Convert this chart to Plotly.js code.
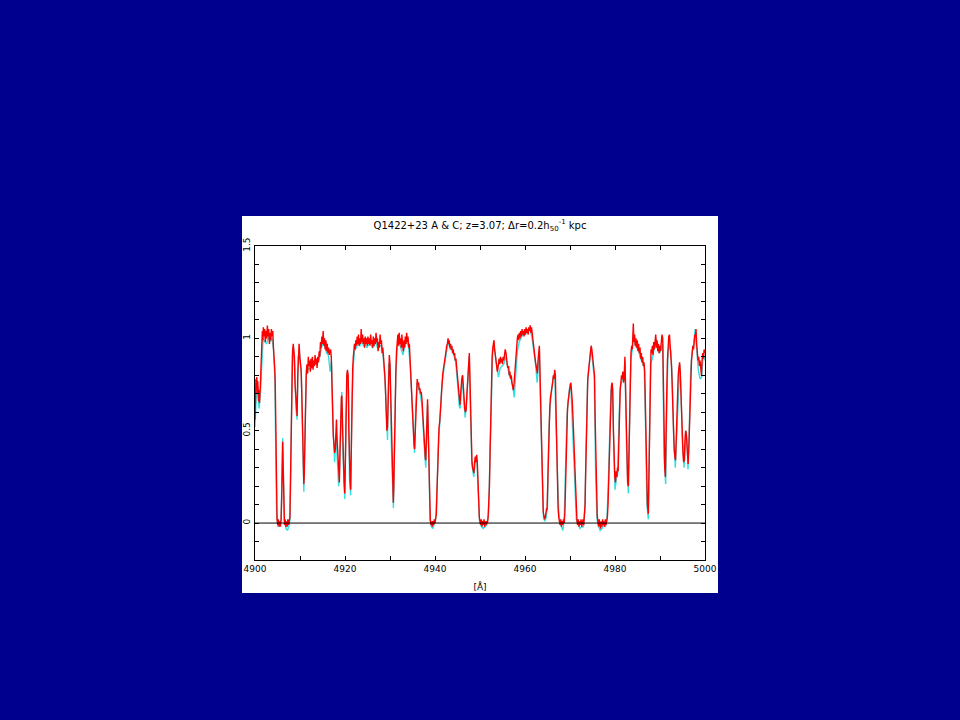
<!DOCTYPE html>
<html>
<head>
<meta charset="utf-8">
<script src="https://cdn.plot.ly/plotly-3.0.1.min.js"></script>
<style>html,body{margin:0;padding:0;background:#00008f;}#chart{width:960px;height:720px;}</style>
</head>
<body>
<div id="chart"></div>
<script>
// Red spectrum (wavelength in Angstrom, normalised flux)
const waveRed = [
4900.00,4900.10,4900.20,4900.30,4900.40,4900.50,4900.60,4900.70,4900.80,4900.90,4901.00,4901.10,4901.20,4901.35,4901.50,4901.63,4901.75,4901.85,4902.00,4902.15,4902.30,4902.45,4902.60,4902.75,4902.90,4903.05,4903.20,4903.35,4903.50,4903.65,4903.80,4903.95,4904.10,4904.25,4904.40,4904.50,4904.60,4904.70,4904.80,4904.90,
4905.05,4905.20,4905.35,4905.50,4905.65,4905.80,4905.95,4906.05,4906.15,4906.25,4906.35,4906.45,4906.55,4906.70,4906.85,4907.00,4907.15,4907.30,4907.45,4907.60,4907.75,4907.90,4908.05,4908.20,4908.35,4908.50,4908.62,4908.75,4908.90,4909.05,4909.20,4909.35,4909.50,4909.65,4909.80,4909.95,
4910.10,4910.25,4910.40,4910.55,4910.70,4910.85,4910.95,4911.10,4911.25,4911.40,4911.55,4911.70,4911.85,4912.00,4912.15,4912.30,4912.45,4912.60,4912.75,4912.90,4913.05,4913.20,4913.35,4913.50,4913.65,4913.80,4913.95,4914.10,4914.25,4914.40,4914.55,4914.70,4914.85,
4915.00,4915.15,4915.30,4915.45,4915.60,4915.75,4915.90,4916.05,4916.20,4916.35,4916.50,4916.65,4916.80,4916.95,4917.10,4917.25,4917.40,4917.55,4917.70,4917.85,4918.00,4918.10,4918.25,4918.40,4918.55,4918.75,4918.90,4919.05,4919.20,4919.30,4919.45,4919.60,4919.80,4919.95,
4920.10,4920.25,4920.40,4920.55,4920.70,4920.85,4921.00,4921.15,4921.26,4921.40,4921.55,4921.70,4921.85,4922.00,4922.10,4922.25,4922.40,4922.55,4922.70,4922.85,4923.00,4923.15,4923.30,4923.45,4923.60,4923.75,4923.90,4924.05,4924.20,4924.35,4924.50,4924.65,4924.80,4924.95,
4925.10,4925.25,4925.40,4925.55,4925.70,4925.85,4926.00,4926.15,4926.30,4926.45,4926.60,4926.75,4926.90,4927.05,4927.20,4927.35,4927.50,4927.65,4927.80,4927.95,4928.10,4928.25,4928.40,4928.55,4928.70,4928.85,4929.00,4929.15,4929.30,4929.45,4929.60,4929.75,4929.85,4930.00,
4930.15,4930.30,4930.45,4930.60,4930.74,4930.85,4931.00,4931.15,4931.30,4931.45,4931.60,4931.75,4931.90,4932.05,4932.20,4932.35,4932.50,4932.65,4932.80,4932.95,4933.10,4933.25,4933.40,4933.55,4933.70,4933.85,4934.00,4934.15,4934.30,4934.45,4934.60,4934.75,4934.90,
4935.05,4935.20,4935.35,4935.48,4935.60,4935.75,4935.90,4936.05,4936.20,4936.35,4936.50,4936.65,4936.80,4936.95,4937.10,4937.25,4937.40,4937.55,4937.70,4937.85,4937.95,4938.10,4938.25,4938.35,4938.50,4938.65,4938.80,4938.95,4939.10,4939.25,4939.40,4939.55,4939.70,4939.85,
4940.00,4940.15,4940.30,4940.45,4940.60,4940.75,4940.90,4941.05,4941.20,4941.35,4941.50,4941.70,4941.85,4942.00,4942.15,4942.30,4942.45,4942.60,4942.75,4942.90,4943.05,4943.15,4943.30,4943.45,4943.60,4943.75,4943.90,4944.05,4944.20,4944.35,4944.50,4944.65,4944.80,4944.95,
4945.10,4945.25,4945.40,4945.55,4945.70,4945.85,4946.00,4946.15,4946.30,4946.45,4946.60,4946.75,4946.90,4947.05,4947.20,4947.35,4947.50,4947.63,4947.75,4947.90,4948.05,4948.20,4948.35,4948.50,4948.65,4948.80,4948.95,4949.10,4949.25,4949.40,4949.55,4949.70,4949.85,
4950.00,4950.15,4950.30,4950.45,4950.60,4950.75,4950.90,4951.05,4951.20,4951.35,4951.50,4951.65,4951.80,4951.95,4952.10,4952.25,4952.40,4952.55,4952.70,4952.85,4953.00,4953.11,4953.25,4953.40,4953.55,4953.70,4953.85,4954.00,4954.10,4954.25,4954.40,4954.55,4954.70,4954.85,
4955.00,4955.15,4955.30,4955.45,4955.60,4955.78,4955.90,4956.05,4956.20,4956.35,4956.50,4956.65,4956.80,4956.95,4957.10,4957.25,4957.40,4957.55,4957.70,4957.85,4958.00,4958.15,4958.30,4958.45,4958.60,4958.75,4958.90,4959.05,4959.20,4959.35,4959.50,4959.65,4959.80,4959.95,
4960.10,4960.25,4960.40,4960.55,4960.70,4960.85,4961.00,4961.15,4961.30,4961.45,4961.60,4961.75,4961.90,4962.05,4962.20,4962.35,4962.50,4962.65,4962.75,4962.90,4963.05,4963.19,4963.30,4963.45,4963.60,4963.75,4963.90,4964.05,4964.20,4964.35,4964.50,4964.65,4964.80,4964.90,
4965.05,4965.20,4965.35,4965.50,4965.65,4965.80,4966.00,4966.15,4966.30,4966.45,4966.60,4966.75,4966.90,4967.05,4967.20,4967.35,4967.50,4967.65,4967.80,4967.95,4968.10,4968.25,4968.40,4968.55,4968.70,4968.85,4969.00,4969.15,4969.30,4969.45,4969.60,4969.75,4969.90,
4970.05,4970.20,4970.35,4970.50,4970.65,4970.80,4970.95,4971.10,4971.25,4971.40,4971.55,4971.70,4971.85,4972.00,4972.15,4972.30,4972.45,4972.60,4972.75,4972.90,4973.05,4973.20,4973.35,4973.50,4973.65,4973.80,4973.95,4974.10,4974.25,4974.40,4974.55,4974.70,4974.85,
4975.00,4975.15,4975.30,4975.45,4975.60,4975.75,4975.90,4976.05,4976.20,4976.35,4976.50,4976.65,4976.80,4976.95,4977.10,4977.25,4977.40,4977.55,4977.70,4977.85,4978.00,4978.15,4978.30,4978.45,4978.60,4978.75,4978.90,4979.05,4979.20,4979.35,4979.50,4979.65,4979.80,4979.95,
4980.10,4980.25,4980.40,4980.55,4980.70,4980.85,4981.00,4981.15,4981.30,4981.45,4981.60,4981.75,4981.90,4982.05,4982.20,4982.35,4982.50,4982.65,4982.80,4982.96,4983.10,4983.25,4983.40,4983.55,4983.70,4983.85,4983.95,4984.07,4984.20,4984.35,4984.50,4984.65,4984.80,4984.95,
4985.10,4985.25,4985.40,4985.55,4985.70,4985.85,4986.00,4986.15,4986.30,4986.45,4986.60,4986.75,4986.90,4987.05,4987.20,4987.40,4987.55,4987.70,4987.85,4988.00,4988.15,4988.30,4988.45,4988.60,4988.75,4988.90,4989.05,4989.20,4989.35,4989.50,4989.65,4989.80,4989.95,
4990.10,4990.30,4990.45,4990.60,4990.75,4990.90,4991.05,4991.20,4991.35,4991.50,4991.65,4991.80,4991.95,4992.10,4992.25,4992.40,4992.55,4992.70,4992.85,4993.00,4993.15,4993.30,4993.45,4993.60,4993.75,4993.90,4994.05,4994.20,4994.35,4994.50,4994.65,4994.80,4994.95,
4995.10,4995.25,4995.40,4995.55,4995.70,4995.85,4996.00,4996.15,4996.25,4996.40,4996.55,4996.70,4996.85,4997.00,4997.15,4997.30,4997.45,4997.60,4997.75,4997.90,4998.00,4998.15,4998.30,4998.45,4998.60,4998.75,4998.90,4999.05,4999.20,4999.35,4999.50,4999.65,4999.80,5000.00
];
const fluxRed = [
0.56,0.70,0.78,0.74,0.79,0.70,0.77,0.73,0.66,0.72,0.65,0.68,0.75,0.86,0.93,1.04,0.99,1.06,1.01,1.05,0.98,1.04,1.00,1.07,1.01,1.05,0.97,1.03,0.99,1.05,1.01,1.04,0.95,0.90,0.83,0.75,0.55,0.30,0.10,0.02,
-0.01,0.02,-0.02,0.01,-0.02,0.02,0.15,0.30,0.44,0.32,0.15,0.04,-0.01,0.02,-0.02,0.01,-0.02,0.02,-0.01,0.01,0.03,0.25,0.55,0.80,0.93,0.97,0.92,0.90,0.75,0.66,0.62,0.58,0.80,0.94,0.97,0.90,
0.86,0.83,0.70,0.45,0.28,0.21,0.26,0.55,0.78,0.82,0.86,0.81,0.90,0.85,0.88,0.82,0.89,0.84,0.90,0.83,0.88,0.85,0.91,0.86,0.89,0.84,0.90,0.87,0.93,0.90,0.98,0.95,1.01,
0.97,1.04,0.96,1.00,0.94,0.99,0.93,0.97,0.92,0.95,0.91,0.93,0.94,0.90,0.80,0.62,0.47,0.42,0.38,0.40,0.52,0.56,0.45,0.35,0.25,0.22,0.40,0.60,0.68,0.69,0.45,0.40,0.22,0.16,
0.35,0.65,0.80,0.83,0.80,0.50,0.29,0.22,0.18,0.40,0.70,0.83,0.90,0.94,0.97,0.94,0.99,0.96,1.01,0.97,1.02,0.96,1.00,0.97,1.05,0.98,1.02,0.97,1.00,0.95,1.01,0.97,1.00,0.96,
1.01,0.97,1.00,0.96,1.02,0.97,0.99,0.95,1.01,0.96,1.00,0.97,1.03,0.98,1.00,0.93,0.98,0.95,1.02,0.97,0.99,0.92,0.95,0.90,0.86,0.80,0.72,0.60,0.50,0.52,0.70,0.88,0.91,0.86,
0.70,0.45,0.25,0.14,0.11,0.20,0.45,0.75,0.82,0.93,0.98,1.02,0.96,1.03,0.97,1.00,0.95,1.02,0.96,0.93,0.99,0.95,1.01,0.97,1.03,0.98,1.01,0.95,0.97,0.88,0.80,0.74,0.68,
0.60,0.50,0.42,0.40,0.50,0.66,0.74,0.78,0.75,0.76,0.72,0.73,0.70,0.71,0.67,0.60,0.50,0.45,0.40,0.35,0.34,0.50,0.65,0.67,0.50,0.30,0.12,0.02,-0.01,0.01,-0.02,0.01,-0.01,0.02,
0.00,0.02,0.05,0.18,0.35,0.45,0.52,0.55,0.62,0.70,0.76,0.80,0.83,0.85,0.88,0.91,0.93,0.96,0.97,1.00,0.97,0.99,0.95,0.97,0.94,0.96,0.92,0.94,0.91,0.92,0.88,0.89,0.85,0.80,
0.75,0.70,0.66,0.64,0.70,0.76,0.79,0.80,0.72,0.66,0.62,0.60,0.61,0.68,0.75,0.80,0.88,0.92,0.80,0.60,0.42,0.34,0.30,0.28,0.27,0.33,0.36,0.33,0.37,0.33,0.20,0.08,0.03,
0.01,-0.01,0.02,-0.02,0.01,-0.01,0.02,-0.02,0.01,-0.01,0.01,0.00,0.03,0.10,0.20,0.40,0.62,0.80,0.90,0.95,0.97,0.99,0.94,0.90,0.87,0.85,0.82,0.84,0.87,0.89,0.86,0.90,0.87,0.89,
0.86,0.90,0.88,0.92,0.94,0.92,0.88,0.86,0.84,0.85,0.80,0.82,0.78,0.80,0.76,0.74,0.72,0.75,0.80,0.88,0.94,0.97,1.00,1.02,0.99,1.03,1.00,1.04,1.01,1.05,1.02,1.04,1.01,1.05,
1.02,1.06,1.03,1.05,1.02,1.06,1.04,1.07,1.03,1.06,1.02,1.01,0.97,0.93,0.90,0.87,0.84,0.82,0.81,0.88,0.94,0.96,0.85,0.65,0.45,0.30,0.16,0.06,0.04,0.02,0.03,0.05,0.08,0.07,
0.20,0.45,0.55,0.62,0.68,0.70,0.72,0.76,0.80,0.78,0.83,0.80,0.60,0.40,0.20,0.08,0.03,0.01,-0.01,0.02,-0.02,0.01,-0.01,0.02,0.00,0.05,0.20,0.40,0.55,0.62,0.66,0.70,0.73,
0.75,0.76,0.72,0.66,0.58,0.48,0.36,0.25,0.12,0.04,0.01,-0.01,0.02,-0.02,0.01,-0.01,0.02,-0.02,0.00,0.02,-0.01,0.03,0.10,0.30,0.50,0.65,0.78,0.82,0.85,0.88,0.93,0.96,0.94,
0.90,0.88,0.85,0.80,0.55,0.30,0.12,0.04,0.01,-0.02,0.02,-0.01,-0.03,0.01,-0.02,0.02,-0.01,0.01,-0.02,0.02,-0.01,0.01,0.03,0.10,0.25,0.45,0.60,0.70,0.74,0.76,0.72,0.50,0.32,0.25,
0.22,0.28,0.25,0.30,0.28,0.45,0.62,0.72,0.76,0.80,0.78,0.82,0.76,0.79,0.90,0.70,0.42,0.30,0.22,0.20,0.35,0.65,0.85,0.92,0.96,0.94,1.00,1.08,0.98,1.02,0.96,1.00,0.95,0.99,
0.93,0.97,0.92,0.95,0.89,0.92,0.87,0.90,0.85,0.87,0.82,0.60,0.35,0.18,0.10,0.05,0.30,0.62,0.85,0.94,0.92,0.96,0.91,0.98,0.94,1.00,1.02,0.95,0.99,0.93,0.97,0.92,0.96,
0.93,0.97,1.02,1.00,0.70,0.45,0.30,0.25,0.40,0.70,0.88,0.97,1.01,1.02,0.97,0.95,0.85,0.75,0.60,0.48,0.40,0.36,0.34,0.45,0.62,0.72,0.80,0.84,0.87,0.82,0.70,0.55,0.45,
0.38,0.33,0.34,0.45,0.50,0.48,0.42,0.35,0.32,0.40,0.55,0.70,0.82,0.88,0.92,0.96,0.94,0.99,1.02,1.01,1.05,0.97,0.93,0.88,0.90,0.85,0.88,0.83,0.80,0.88,0.92,0.89,0.94,0.92
];

// Cyan spectrum (second sight line)
const waveCyan = [
4900.0,4900.3,4900.6,4900.9,4901.2,4901.5,4901.8,4902.2,4902.6,4903.0,4903.4,4903.8,4904.1,4904.4,4904.6,4904.8,4905.1,4905.5,4905.8,4906.0,4906.15,4906.3,4906.5,4906.9,4907.2,4907.5,4907.8,4908.0,4908.3,4908.5,4908.8,4909.1,4909.35,4909.6,4909.9,
4910.3,4910.6,4910.85,4911.1,4911.4,4911.8,4912.3,4912.8,4913.3,4913.8,4914.3,4914.7,4915.1,4915.5,4915.9,4916.3,4916.7,4917.0,4917.3,4917.7,4918.0,4918.3,4918.6,4918.8,4919.1,4919.28,4919.5,4919.95,4920.2,4920.5,4920.8,4921.0,4921.26,4921.5,4921.8,
4922.1,4922.5,4922.9,4923.3,4923.7,4924.1,4924.5,4924.9,4925.3,4925.7,4926.1,4926.5,4926.9,4927.3,4927.7,4928.1,4928.5,4928.9,4929.2,4929.45,4929.7,4930.0,4930.3,4930.6,4930.75,4931.0,4931.3,4931.6,4932.0,4932.5,4932.9,4933.3,4933.7,4934.1,4934.5,4934.9,
4935.2,4935.45,4935.7,4936.0,4936.4,4936.8,4937.1,4937.4,4937.7,4937.95,4938.2,4938.35,4938.6,4938.9,4939.2,4939.5,4939.9,4940.2,4940.5,4940.8,4941.1,4941.5,4941.9,4942.3,4942.7,4943.0,4943.4,4943.8,4944.2,4944.6,4945.0,4945.4,4945.6,4946.0,4946.3,4946.7,
4947.0,4947.3,4947.6,4947.9,4948.2,4948.6,4949.0,4949.3,4949.6,4949.9,4950.3,4950.7,4951.1,4951.5,4951.9,4952.2,4952.5,4952.8,4953.1,4953.5,4953.9,4954.1,4954.5,4954.9,4955.3,4955.7,4956.1,4956.5,4956.9,4957.3,4957.6,4958.0,4958.3,4958.7,4959.1,4959.5,4959.9,
4960.3,4960.7,4961.1,4961.5,4961.9,4962.3,4962.7,4963.0,4963.2,4963.5,4963.8,4964.1,4964.4,4964.7,4965.0,4965.3,4965.6,4965.9,4966.2,4966.6,4966.9,4967.2,4967.5,4967.8,4968.1,4968.4,4968.7,4969.0,4969.3,4969.6,4969.9,
4970.2,4970.5,4970.8,4971.1,4971.4,4971.8,4972.2,4972.6,4973.0,4973.3,4973.6,4973.9,4974.3,4974.65,4975.0,4975.4,4975.7,4976.0,4976.4,4976.7,4977.1,4977.5,4977.9,4978.2,4978.5,4978.8,4979.1,4979.4,4979.7,4980.0,4980.3,4980.6,4980.9,4981.2,4981.6,4982.0,
4982.2,4982.6,4982.96,4983.2,4983.5,4983.8,4984.1,4984.5,4984.9,4985.3,4985.7,4986.1,4986.5,4986.8,4987.1,4987.4,4987.6,4987.9,4988.3,4988.7,4989.1,4989.5,4989.9,4990.3,4990.6,4990.9,4991.26,4991.5,4991.8,4992.1,4992.4,4992.7,4993.0,4993.4,4993.7,4994.0,4994.4,
4994.7,4995.0,4995.35,4995.8,4996.0,4996.22,4996.5,4996.8,4997.1,4997.5,4997.8,4998.1,4998.5,4998.9,4999.26,4999.6,5000.0
];
const fluxCyan = [
0.52,0.70,0.72,0.62,0.70,0.90,1.00,0.98,0.97,1.01,0.98,1.00,0.94,0.80,0.50,0.06,-0.02,-0.01,0.01,0.20,0.46,0.28,0.02,-0.03,-0.04,-0.02,0.02,0.40,0.90,0.95,0.87,0.62,0.56,0.90,0.92,
0.80,0.38,0.17,0.50,0.80,0.84,0.83,0.85,0.86,0.86,0.89,0.94,0.98,0.96,0.92,0.91,0.82,0.88,0.55,0.33,0.48,0.34,0.20,0.30,0.62,0.71,0.40,0.13,0.55,0.82,0.72,0.24,0.15,0.60,0.84,
0.93,0.95,0.97,0.96,0.99,0.96,0.97,0.95,0.97,0.97,0.95,0.96,0.98,0.94,0.96,0.96,0.90,0.77,0.56,0.45,0.86,0.86,0.42,0.12,0.08,0.42,0.80,0.95,0.98,0.94,0.91,0.96,0.98,0.96,0.85,0.66,
0.48,0.38,0.62,0.76,0.73,0.69,0.64,0.48,0.38,0.30,0.60,0.64,0.40,0.02,-0.02,-0.03,0.00,0.03,0.22,0.46,0.55,0.74,0.82,0.89,0.95,0.98,0.94,0.94,0.90,0.87,0.76,0.63,0.62,0.78,0.70,0.57,
0.65,0.78,0.90,0.58,0.32,0.25,0.34,0.34,0.14,0.01,-0.02,-0.03,-0.02,-0.01,0.05,0.32,0.74,0.92,0.96,0.88,0.80,0.79,0.84,0.85,0.86,0.90,0.85,0.80,0.78,0.74,0.68,0.80,0.93,0.98,1.00,1.02,1.02,
1.03,1.04,1.05,1.01,0.95,0.87,0.76,0.90,0.94,0.58,0.24,0.03,0.01,0.03,0.09,0.50,0.64,0.72,0.78,0.81,0.60,0.28,0.06,0.00,-0.02,-0.04,0.01,0.26,0.57,0.66,0.73,
0.73,0.58,0.40,0.20,0.02,-0.01,-0.03,-0.02,-0.02,0.08,0.48,0.76,0.86,0.95,0.88,0.78,0.26,0.02,-0.02,-0.04,-0.03,-0.01,-0.02,0.02,0.20,0.55,0.72,0.73,0.38,0.18,0.24,0.26,0.58,0.74,0.78,0.77,
0.88,0.38,0.16,0.50,0.88,0.93,1.02,0.96,0.95,0.93,0.89,0.87,0.84,0.52,0.10,0.02,0.48,0.86,0.89,0.94,1.00,0.94,0.92,0.94,0.97,0.36,0.21,0.62,0.93,0.97,0.93,0.80,0.50,0.30,0.47,0.70,0.86,
0.68,0.44,0.30,0.50,0.44,0.29,0.50,0.82,0.92,0.97,1.05,0.96,0.83,0.78,0.79,0.92,0.88
];

const titleText = 'Q1422+23 A &amp; C; z=3.07; Δr=0.2h<sub>50</sub><sup>-1</sup> kpc';
const xTitle = '[Å]';
const xTickVals = [4900, 4920, 4940, 4960, 4980, 5000];
const yTickVals = [0, 0.5, 1, 1.5];
const yTickText = ['0', '0.5', '1', '1.5'];

const traces = [
  {x: waveCyan, y: fluxCyan, type: 'scatter', mode: 'lines',
   line: {color: '#33e0e0', width: 1.4}, hoverinfo: 'skip', showlegend: false},
  {x: waveRed, y: fluxRed, type: 'scatter', mode: 'lines',
   line: {color: '#ff0000', width: 1.4}, hoverinfo: 'skip', showlegend: false}
];

const axisFont = {family: 'DejaVu Sans, sans-serif', size: 9, color: '#000'};

const layout = {
  width: 960, height: 720,
  paper_bgcolor: '#00008f',
  plot_bgcolor: '#ffffff',
  margin: {l: 255, r: 255, t: 246, b: 160, pad: 0},
  showlegend: false,
  title: {text: titleText, font: {family: 'DejaVu Sans, sans-serif', size: 10, color: '#000'},
          x: 0.5, xref: 'paper', xanchor: 'center', y: (720 - 225) / 720, yref: 'container', yanchor: 'middle'},
  xaxis: {
    range: [4900, 5000], showgrid: false, zeroline: false,
    showline: true, linecolor: '#000', linewidth: 1, mirror: 'allticks',
    ticks: 'inside', ticklen: 4, tickcolor: '#000', tickwidth: 1,
    tickvals: xTickVals, ticktext: xTickVals.map(String),
    minor: {dtick: 10, tick0: 4900, ticks: 'inside', ticklen: 4, tickcolor: '#000', showgrid: false},
    tickfont: axisFont,
    title: {text: xTitle, font: {family: 'DejaVu Sans, sans-serif', size: 9, color: '#000'}, standoff: 10}
  },
  yaxis: {
    range: [-0.2, 1.5], showgrid: false, zeroline: false,
    showline: true, linecolor: '#000', linewidth: 1, mirror: 'allticks',
    ticks: 'inside', ticklen: 4, tickcolor: '#000', tickwidth: 1,
    tickvals: yTickVals, ticktext: yTickText, tickangle: -90,
    minor: {dtick: 0.1, tick0: 0, ticks: 'inside', ticklen: 4, tickcolor: '#000', showgrid: false},
    tickfont: axisFont
  },
  shapes: [
    {type: 'rect', xref: 'paper', yref: 'paper', x0: -13/450, x1: 463/450, y0: -33/314, y1: 344/314,
     fillcolor: '#ffffff', line: {width: 0}, layer: 'below'},
    {type: 'line', xref: 'paper', yref: 'y', x0: 0, x1: 1, y0: 0, y1: 0,
     line: {color: '#000', width: 1}, layer: 'above'}
  ]
};

Plotly.newPlot('chart', traces, layout, {staticPlot: true, displayModeBar: false});
</script>
</body>
</html>
